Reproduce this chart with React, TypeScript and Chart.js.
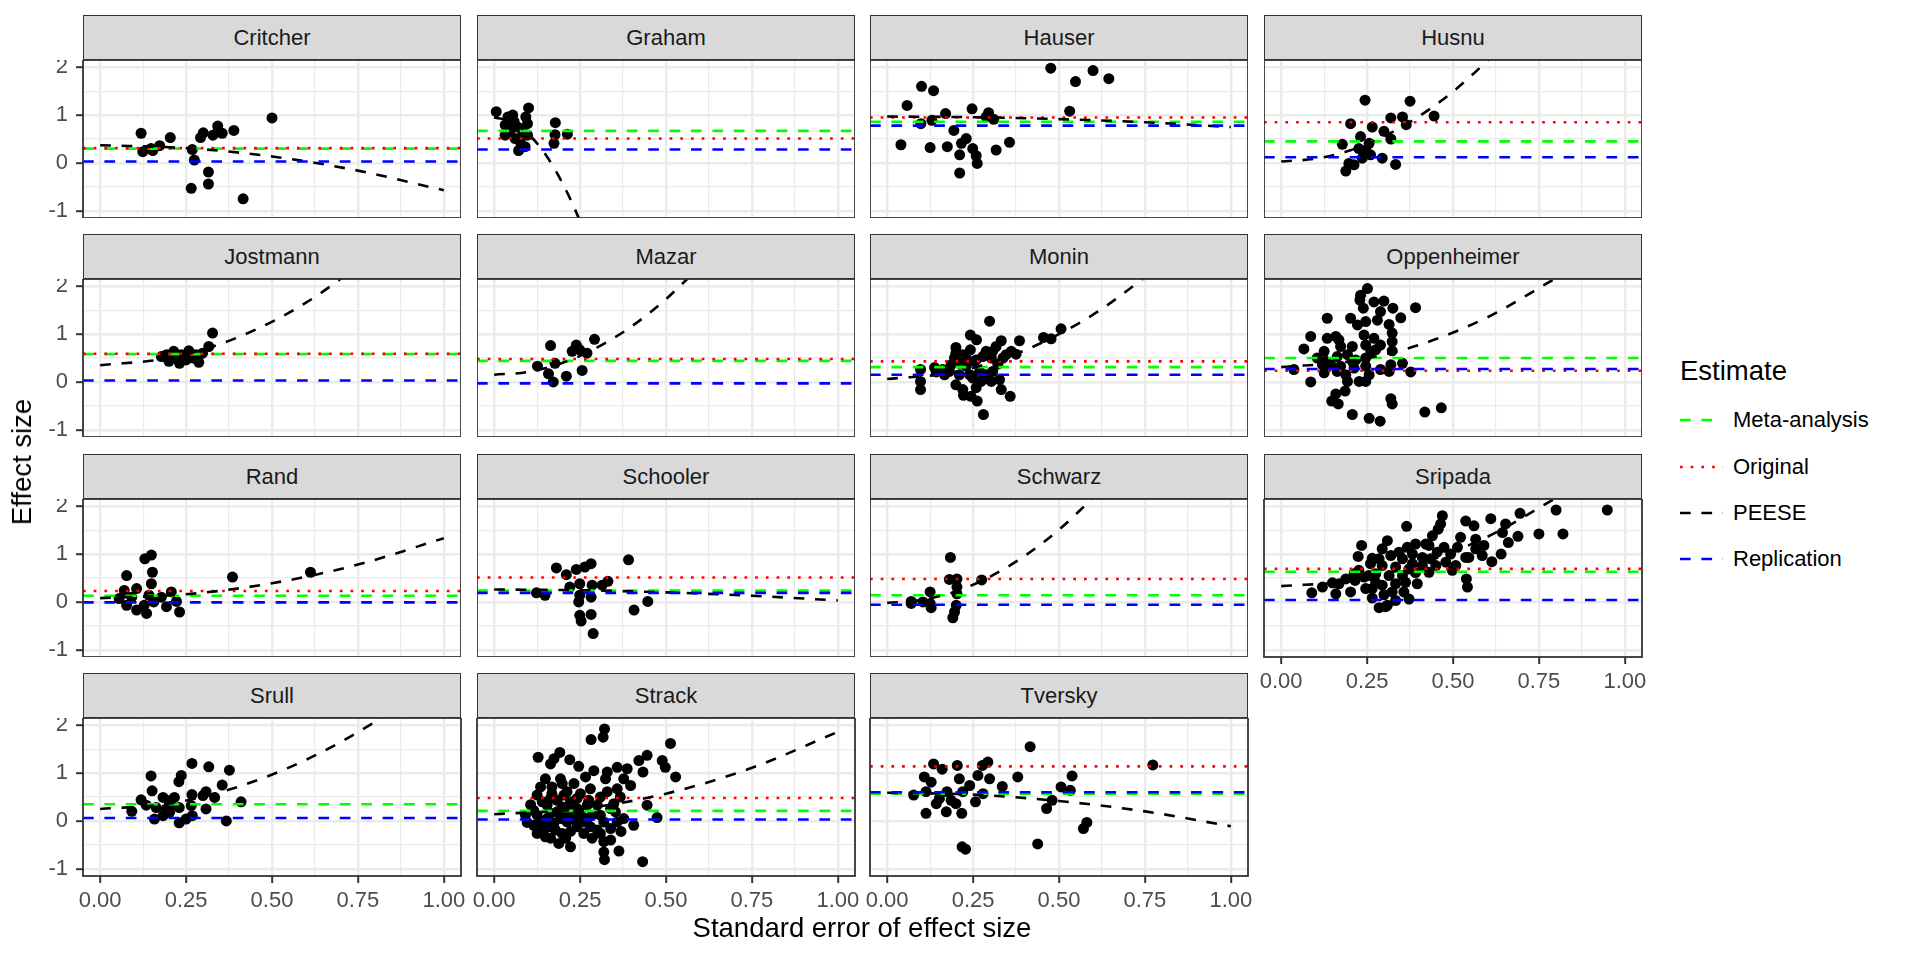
import React, { useEffect, useRef } from "react";
import { Chart, registerables } from "chart.js";

Chart.register(...registerables);

// ---------- axis settings ----------
const X_MIN = -0.05;
const X_MAX = 1.05;
const Y_MIN = -1.15;
const Y_MAX = 2.15;
const xGridValues = [0, 0.125, 0.25, 0.375, 0.5, 0.625, 0.75, 0.875, 1];
const xMajorValues = [0, 0.25, 0.5, 0.75, 1];
const xTickLabels = ["0.00", "0.25", "0.50", "0.75", "1.00"];
const yGridValues = [-1, -0.5, 0, 0.5, 1, 1.5, 2];
const yMajorValues = [-1, 0, 1, 2];
const yTickLabels = ["-1", "0", "1", "2"];

// ---------- facets ----------
const studies = [
  "Critcher", "Graham", "Hauser", "Husnu",
  "Jostmann", "Mazar", "Monin", "Oppenheimer",
  "Rand", "Schooler", "Schwarz", "Sripada",
  "Srull", "Strack", "Tversky",
];
const metaValues = [0.30, 0.67, 0.86, 0.45, 0.58, 0.44, 0.31, 0.50, 0.13, 0.24, 0.14, 0.63, 0.35, 0.21, 0.57];
const originalValues: (number | null)[] = [0.31, 0.51, 0.95, 0.85, 0.59, 0.48, 0.43, 0.235, 0.23, 0.51, 0.48, 0.69, null, 0.48, 1.14];
const replicationValues = [0.03, 0.28, 0.78, 0.12, 0.03, -0.03, 0.15, 0.27, -0.01, 0.19, -0.06, 0.04, 0.06, 0.03, 0.60];

// ---------- points: [standard error, effect size] ----------
const critcherPoints: [number, number][] = [
  [0.119, 0.62], [0.124, 0.235], [0.148, 0.30], [0.153, 0.26], [0.173, 0.36], [0.204, 0.53],
  [0.268, 0.28], [0.274, 0.06], [0.265, -0.53], [0.292, 0.53], [0.30, 0.63], [0.315, -0.19],
  [0.315, -0.44], [0.328, 0.58], [0.342, 0.77], [0.355, 0.62], [0.389, 0.68], [0.416, -0.75],
  [0.50, 0.94], [0.342, 0.65],
];
const grahamPoints: [number, number][] = [
  [0.006, 1.07], [0.04, 0.96], [0.054, 1.0], [0.10, 1.15], [0.092, 0.96], [0.097, 0.82],
  [0.032, 0.79], [0.046, 0.68], [0.068, 0.75], [0.032, 0.58], [0.061, 0.51], [0.076, 0.43],
  [0.090, 0.34], [0.071, 0.26], [0.097, 0.58], [0.178, 0.84], [0.177, 0.59], [0.213, 0.60],
  [0.174, 0.41], [0.083, 0.65], [0.058, 0.86],
];
const hauserPoints: [number, number][] = [
  [0.10, 1.60], [0.135, 1.51], [0.058, 1.20], [0.04, 0.38], [0.17, 1.03], [0.13, 0.89],
  [0.098, 0.82], [0.125, 0.32], [0.175, 0.34], [0.194, 0.68], [0.23, 0.51], [0.216, 0.41],
  [0.247, 1.13], [0.295, 1.05], [0.288, 0.96], [0.31, 0.91], [0.249, 0.30], [0.211, 0.17],
  [0.259, 0.15], [0.262, -0.01], [0.211, -0.21], [0.317, 0.27], [0.356, 0.43], [0.476, 1.98],
  [0.548, 1.70], [0.599, 1.93], [0.645, 1.76], [0.531, 1.08],
];
const husnuPoints: [number, number][] = [
  [0.244, 1.31], [0.202, 0.82], [0.375, 1.29], [0.445, 0.98], [0.319, 0.94], [0.353, 0.96],
  [0.364, 0.80], [0.265, 0.75], [0.299, 0.66], [0.319, 0.50], [0.231, 0.55], [0.178, 0.39],
  [0.256, 0.41], [0.246, 0.27], [0.26, 0.17], [0.236, 0.10], [0.294, 0.10], [0.197, -0.01],
  [0.212, -0.04], [0.188, -0.17], [0.333, -0.03], [0.226, 0.30],
];
const jostmannPoints: [number, number][] = [
  [0.327, 1.02], [0.316, 0.74], [0.214, 0.64], [0.178, 0.53], [0.20, 0.43], [0.231, 0.39],
  [0.258, 0.65], [0.279, 0.57], [0.287, 0.41], [0.298, 0.60], [0.236, 0.57], [0.272, 0.50],
  [0.222, 0.50], [0.193, 0.57], [0.25, 0.46],
];
const mazarPoints: [number, number][] = [
  [0.164, 0.76], [0.292, 0.89], [0.239, 0.77], [0.227, 0.64], [0.27, 0.60], [0.249, 0.67],
  [0.126, 0.33], [0.177, 0.39], [0.158, 0.17], [0.21, 0.12], [0.256, 0.24], [0.172, 0.00],
];
const moninPoints: [number, number][] = [
  [0.298, 1.27], [0.242, 0.98], [0.26, 0.88], [0.332, 0.86], [0.385, 0.86], [0.455, 0.93],
  [0.477, 0.90], [0.506, 1.11], [0.20, 0.72], [0.361, 0.64], [0.375, 0.58], [0.317, 0.74],
  [0.288, 0.64], [0.242, 0.67], [0.22, 0.57], [0.196, 0.50], [0.138, 0.30], [0.097, 0.26],
  [0.097, 0.01], [0.097, -0.16], [0.162, 0.26], [0.186, 0.36], [0.21, 0.39], [0.23, 0.33],
  [0.254, 0.43], [0.278, 0.53], [0.303, 0.50], [0.322, 0.37], [0.337, 0.50], [0.269, 0.22],
  [0.24, 0.15], [0.20, -0.06], [0.22, -0.16], [0.259, -0.12], [0.303, 0.01], [0.327, 0.05],
  [0.332, -0.16], [0.358, -0.30], [0.244, -0.30], [0.222, -0.28], [0.262, -0.40], [0.28, -0.68],
  [0.21, 0.15], [0.181, 0.22], [0.288, 0.15], [0.143, 0.21], [0.167, 0.15], [0.307, 0.22],
  [0.249, 0.08], [0.273, 0.01], [0.20, 0.60], [0.259, 0.46], [0.307, 0.64], [0.346, 0.57],
  [0.23, 0.50],
];
const oppenheimerPoints: [number, number][] = [
  [0.251, 1.95], [0.231, 1.81], [0.229, 1.71], [0.27, 1.67], [0.299, 1.69], [0.239, 1.54],
  [0.325, 1.54], [0.391, 1.55], [0.134, 1.33], [0.202, 1.33], [0.222, 1.19], [0.246, 1.26],
  [0.28, 1.29], [0.289, 1.47], [0.348, 1.34], [0.314, 1.20], [0.323, 1.02], [0.086, 0.95],
  [0.134, 0.91], [0.159, 0.95], [0.168, 0.88], [0.241, 0.98], [0.27, 0.91], [0.323, 0.84],
  [0.066, 0.69], [0.125, 0.64], [0.173, 0.74], [0.207, 0.74], [0.246, 0.77], [0.289, 0.77],
  [0.261, 0.64], [0.323, 0.65], [0.105, 0.50], [0.13, 0.43], [0.163, 0.53], [0.193, 0.57],
  [0.217, 0.46], [0.246, 0.50], [0.037, 0.26], [0.12, 0.36], [0.125, 0.19], [0.163, 0.22],
  [0.188, 0.15], [0.212, 0.29], [0.246, 0.33], [0.289, 0.26], [0.319, 0.36], [0.314, 0.22],
  [0.353, 0.39], [0.377, 0.21], [0.086, 0.00], [0.193, 0.01], [0.246, 0.01], [0.256, 0.15],
  [0.186, -0.19], [0.159, -0.25], [0.147, -0.40], [0.166, -0.46], [0.319, -0.35], [0.323, -0.46],
  [0.207, -0.68], [0.256, -0.76], [0.288, -0.82], [0.418, -0.63], [0.466, -0.54], [0.207, 0.43],
  [0.173, 0.33], [0.144, 0.36], [0.275, 0.67], [0.227, 0.01],
];
const randPoints: [number, number][] = [
  [0.149, 0.98], [0.13, 0.90], [0.077, 0.55], [0.152, 0.62], [0.149, 0.38], [0.07, 0.24],
  [0.106, 0.28], [0.207, 0.21], [0.055, 0.07], [0.077, -0.07], [0.106, -0.17], [0.135, -0.24],
  [0.128, -0.07], [0.156, 0.00], [0.193, -0.10], [0.231, -0.21], [0.178, 0.10], [0.385, 0.52],
  [0.612, 0.62], [0.092, 0.10], [0.142, 0.14], [0.222, 0.01],
];
const schoolerPoints: [number, number][] = [
  [0.123, 0.19], [0.148, 0.14], [0.181, 0.71], [0.21, 0.57], [0.239, 0.68], [0.264, 0.73],
  [0.282, 0.80], [0.249, 0.38], [0.285, 0.35], [0.314, 0.35], [0.331, 0.43], [0.249, 0.14],
  [0.282, 0.10], [0.246, 0.0], [0.249, -0.28], [0.253, -0.40], [0.282, -0.26], [0.288, -0.66],
  [0.391, 0.88], [0.407, -0.17], [0.447, 0.01], [0.22, 0.31],
];
const schwarzPoints: [number, number][] = [
  [0.184, 0.93], [0.181, 0.47], [0.203, 0.48], [0.275, 0.46], [0.203, 0.31], [0.203, 0.17],
  [0.125, 0.21], [0.07, 0.01], [0.07, -0.03], [0.125, -0.03], [0.128, -0.12], [0.201, -0.07],
  [0.196, -0.21], [0.191, -0.33], [0.104, 0.0],
];
const sripadaPoints: [number, number][] = [
  [0.949, 1.92], [0.80, 1.92], [0.695, 1.85], [0.82, 1.42], [0.75, 1.42], [0.689, 1.37],
  [0.61, 1.74], [0.653, 1.63], [0.644, 1.45], [0.661, 1.24], [0.64, 1.00], [0.613, 0.84],
  [0.59, 1.18], [0.566, 1.11], [0.561, 1.59], [0.537, 1.69], [0.522, 1.35], [0.513, 1.14],
  [0.537, 0.93], [0.539, 0.48], [0.542, 0.31], [0.469, 1.80], [0.464, 1.63], [0.457, 1.52],
  [0.44, 1.38], [0.474, 1.14], [0.454, 1.04], [0.421, 1.21], [0.391, 1.21], [0.367, 1.14],
  [0.365, 1.58], [0.309, 1.28], [0.294, 1.11], [0.234, 1.18], [0.224, 0.95], [0.265, 0.91],
  [0.319, 0.97], [0.353, 0.90], [0.382, 1.00], [0.411, 0.93], [0.435, 0.90], [0.493, 1.00],
  [0.479, 0.83], [0.411, 0.76], [0.372, 0.69], [0.333, 0.73], [0.294, 0.76], [0.26, 0.80],
  [0.226, 0.66], [0.241, 0.52], [0.275, 0.59], [0.314, 0.55], [0.353, 0.55], [0.391, 0.61],
  [0.43, 0.62], [0.498, 0.66], [0.396, 0.38], [0.357, 0.21], [0.372, 0.06], [0.333, 0.03],
  [0.299, 0.15], [0.309, -0.07], [0.285, -0.12], [0.304, -0.10], [0.265, 0.08], [0.265, 0.28],
  [0.215, 0.45], [0.212, 0.59], [0.202, 0.21], [0.159, 0.17], [0.168, 0.38], [0.149, 0.40],
  [0.12, 0.31], [0.089, 0.19], [0.333, 0.38], [0.294, 0.35], [0.246, 0.28], [0.323, 0.21],
  [0.362, 0.41], [0.45, 0.76], [0.508, 0.76], [0.566, 1.31], [0.546, 0.93], [0.585, 0.97],
  [0.43, 1.18], [0.382, 0.80], [0.343, 1.04], [0.285, 0.90], [0.255, 0.55], [0.188, 0.48],
  [0.275, 0.41],
];
const srullPoints: [number, number][] = [
  [0.148, 0.94], [0.151, 0.63], [0.119, 0.44], [0.134, 0.33], [0.092, 0.20], [0.183, 0.49],
  [0.236, 0.95], [0.229, 0.82], [0.267, 1.20], [0.316, 1.13], [0.376, 1.06], [0.355, 0.75],
  [0.333, 0.49], [0.308, 0.61], [0.267, 0.55], [0.299, 0.53], [0.216, 0.49], [0.20, 0.42],
  [0.163, 0.28], [0.158, 0.04], [0.183, 0.11], [0.202, 0.18], [0.23, 0.28], [0.265, 0.32],
  [0.308, 0.25], [0.268, 0.11], [0.25, 0.04], [0.23, -0.04], [0.367, 0.00], [0.41, 0.40],
  [0.207, 0.32], [0.192, 0.25],
];
const strackPoints: [number, number][] = [
  [0.321, 1.92], [0.317, 1.75], [0.282, 1.70], [0.513, 1.62], [0.128, 1.33], [0.191, 1.43],
  [0.174, 1.30], [0.164, 1.19], [0.22, 1.28], [0.246, 1.14], [0.421, 1.26], [0.445, 1.37],
  [0.489, 1.26], [0.498, 1.12], [0.528, 0.92], [0.433, 1.02], [0.387, 1.09], [0.358, 1.12],
  [0.329, 1.02], [0.29, 1.05], [0.266, 0.92], [0.149, 0.88], [0.135, 0.71], [0.198, 0.78],
  [0.232, 0.78], [0.324, 0.88], [0.377, 0.88], [0.397, 0.74], [0.358, 0.67], [0.28, 0.67],
  [0.251, 0.57], [0.212, 0.61], [0.168, 0.57], [0.125, 0.54], [0.183, 0.43], [0.222, 0.40],
  [0.275, 0.43], [0.329, 0.61], [0.367, 0.50], [0.106, 0.34], [0.154, 0.33], [0.198, 0.29],
  [0.241, 0.26], [0.30, 0.33], [0.445, 0.33], [0.339, 0.26], [0.091, 0.12], [0.125, 0.12],
  [0.164, 0.16], [0.212, 0.12], [0.251, 0.16], [0.285, 0.12], [0.096, -0.03], [0.135, -0.02],
  [0.174, -0.05], [0.212, -0.02], [0.261, -0.02], [0.319, -0.02], [0.358, -0.02], [0.406, -0.09],
  [0.474, 0.07], [0.14, -0.19], [0.178, -0.19], [0.222, -0.22], [0.261, -0.26], [0.30, -0.19],
  [0.339, -0.16], [0.369, -0.22], [0.149, -0.33], [0.188, -0.47], [0.222, -0.54], [0.319, -0.43],
  [0.339, -0.40], [0.319, -0.65], [0.321, -0.81], [0.363, -0.63], [0.432, -0.85], [0.115, -0.09],
  [0.154, 0.05], [0.193, 0.05], [0.232, 0.05], [0.271, 0.05], [0.309, 0.12], [0.183, 0.19],
  [0.222, 0.26], [0.271, 0.33], [0.115, 0.22], [0.164, 0.47], [0.203, 0.54], [0.241, 0.47],
  [0.309, 0.50], [0.348, 0.36], [0.14, 0.40], [0.168, 0.71], [0.193, 0.88], [0.159, -0.12],
  [0.198, -0.26], [0.241, -0.12], [0.28, -0.12], [0.377, 0.05], [0.353, 0.19], [0.125, -0.26],
  [0.164, -0.36], [0.208, -0.36], [0.285, -0.36], [0.309, -0.26],
];
const tverskyPoints: [number, number][] = [
  [0.416, 1.55], [0.135, 1.19], [0.16, 1.08], [0.204, 1.16], [0.277, 1.16], [0.293, 1.23],
  [0.773, 1.17], [0.538, 0.94], [0.38, 0.92], [0.298, 0.88], [0.264, 0.95], [0.21, 0.88],
  [0.108, 0.92], [0.128, 0.81], [0.335, 0.72], [0.24, 0.74], [0.22, 0.61], [0.174, 0.61],
  [0.113, 0.61], [0.077, 0.54], [0.506, 0.71], [0.533, 0.64], [0.279, 0.57], [0.257, 0.40],
  [0.143, 0.36], [0.172, 0.19], [0.113, 0.16], [0.217, 0.16], [0.186, 0.43], [0.48, 0.43],
  [0.464, 0.26], [0.581, -0.03], [0.571, -0.16], [0.438, -0.48], [0.218, -0.54], [0.228, -0.59],
  [0.152, 0.47], [0.20, 0.36],
];

// ---------- PEESE fitted line: [standard error, effect size] ----------
const critcherPeese: [number, number][] = [[0, 0.37], [0.25, 0.31], [0.5, 0.135], [0.75, -0.16], [1, -0.57]];
const grahamPeese: [number, number][] = [[0, 0.95], [0.05, 0.86], [0.1, 0.6], [0.15, 0.17], [0.2, -0.44], [0.25, -1.22], [0.3, -2.17]];
const hauserPeese: [number, number][] = [[0, 0.97], [0.25, 0.955], [0.5, 0.915], [0.75, 0.85], [1, 0.75]];
const husnuPeese: [number, number][] = [[0, 0.03], [0.1, 0.09], [0.2, 0.26], [0.3, 0.56], [0.4, 0.97], [0.5, 1.49], [0.6, 2.14], [0.7, 2.9]];
const jostmannPeese: [number, number][] = [[0, 0.35], [0.2, 0.5], [0.4, 0.93], [0.6, 1.66], [0.8, 2.69]];
const mazarPeese: [number, number][] = [[0, 0.15], [0.1, 0.21], [0.2, 0.4], [0.3, 0.72], [0.4, 1.16], [0.5, 1.73], [0.6, 2.42]];
const moninPeese: [number, number][] = [[0, 0.06], [0.2, 0.21], [0.4, 0.66], [0.6, 1.41], [0.8, 2.46]];
const oppenheimerPeese: [number, number][] = [[0, 0.31], [0.2, 0.43], [0.4, 0.77], [0.6, 1.35], [0.8, 2.17]];
const randPeese: [number, number][] = [[0, 0.08], [0.25, 0.16], [0.5, 0.39], [0.75, 0.78], [1, 1.33]];
const schoolerPeese: [number, number][] = [[0, 0.26], [0.25, 0.245], [0.5, 0.2], [0.75, 0.13], [1, 0.03]];
const schwarzPeese: [number, number][] = [[0, -0.02], [0.1, 0.04], [0.2, 0.22], [0.3, 0.53], [0.4, 0.96], [0.5, 1.51], [0.6, 2.18]];
const sripadaPeese: [number, number][] = [[0, 0.33], [0.2, 0.44], [0.4, 0.79], [0.6, 1.36], [0.8, 2.17]];
const srullPeese: [number, number][] = [[0, 0.25], [0.2, 0.36], [0.4, 0.71], [0.6, 1.28], [0.8, 2.07], [0.9, 2.56]];
const strackPeese: [number, number][] = [[0, 0.14], [0.25, 0.25], [0.5, 0.57], [0.75, 1.11], [1, 1.86]];
const tverskyPeese: [number, number][] = [[0, 0.59], [0.25, 0.55], [0.5, 0.415], [0.75, 0.2], [1, -0.11]];

const pointSets = [
  critcherPoints, grahamPoints, hauserPoints, husnuPoints,
  jostmannPoints, mazarPoints, moninPoints, oppenheimerPoints,
  randPoints, schoolerPoints, schwarzPoints, sripadaPoints,
  srullPoints, strackPoints, tverskyPoints,
];
const peeseSets = [
  critcherPeese, grahamPeese, hauserPeese, husnuPeese,
  jostmannPeese, mazarPeese, moninPeese, oppenheimerPeese,
  randPeese, schoolerPeese, schwarzPeese, sripadaPeese,
  srullPeese, strackPeese, tverskyPeese,
];

const legendLabels = ["Meta-analysis", "Original", "PEESE", "Replication"];

// ---------- style / layout ----------
const FONT = '"Liberation Sans", Arial, Helvetica, sans-serif';
const COL_LEFT = [83, 477, 870, 1264];
const ROW_TOP = [60, 279, 499, 718];
const PANEL_W = 378;
const PANEL_H = 158;
const STRIP_H = 45;
const LINE_W = 2.6;
const DASH = [10.7, 10.7];
const DOT = [2.7, 8];
const GREEN = "#00FF00";
const RED = "#FF0000";
const BLUE = "#0000FF";
const GRID = "#EBEBEB";
const DARK = "#333333";

const isMajor = (v: number, majors: number[]) => majors.some((m) => Math.abs(m - v) < 1e-9);

const borderPlugin = {
  id: "panelBorder",
  afterDraw(chart: any) {
    const { ctx, chartArea } = chart;
    ctx.save();
    ctx.strokeStyle = DARK;
    ctx.lineWidth = 1.8;
    ctx.setLineDash([]);
    ctx.strokeRect(chartArea.left, chartArea.top, chartArea.right - chartArea.left, chartArea.bottom - chartArea.top);
    ctx.restore();
  },
};

function hline(v: number, color: string, dash: number[], order: number) {
  return {
    data: [{ x: X_MIN, y: v }, { x: X_MAX, y: v }],
    showLine: true,
    pointRadius: 0,
    borderColor: color,
    borderWidth: LINE_W,
    borderDash: dash,
    borderCapStyle: "butt",
    order,
    clip: 0,
  };
}

function Panel({ idx }: { idx: number }) {
  const ref = useRef<HTMLCanvasElement>(null);
  const col = idx % 4;
  const row = Math.floor(idx / 4);
  const isBottom = row === 3 || (row === 2 && col === 3);
  const isLeft = col === 0;
  const axisW = isLeft ? COL_LEFT[0] : 0;
  const extraL = !isLeft && isBottom ? 22 : 0;
  const padB = isBottom ? 50 : 0;
  const padR = isBottom ? 22 : 0;
  const left = COL_LEFT[col] - axisW - extraL;
  const top = ROW_TOP[row];
  const w = PANEL_W + axisW + extraL + padR;
  const h = PANEL_H + padB;

  useEffect(() => {
    const datasets: any[] = [];
    datasets.push({
      data: pointSets[idx].map(([x, y]) => ({ x, y })),
      pointRadius: 5.5,
      pointBackgroundColor: "#000000",
      pointBorderWidth: 0,
      showLine: false,
      order: 10,
    });
    datasets.push(hline(metaValues[idx], GREEN, DASH, 4));
    const orig = originalValues[idx];
    if (orig !== null) datasets.push(hline(orig, RED, DOT, 3));
    datasets.push({
      data: peeseSets[idx].map(([x, y]) => ({ x, y })),
      showLine: true,
      pointRadius: 0,
      borderColor: "#000000",
      borderWidth: LINE_W,
      borderDash: DASH,
      cubicInterpolationMode: "monotone",
      order: 2,
      clip: 0,
    });
    datasets.push(hline(replicationValues[idx], BLUE, DASH, 1));

    const chart = new Chart(ref.current as HTMLCanvasElement, {
      type: "scatter",
      data: { datasets },
      plugins: [borderPlugin],
      options: {
        animation: false,
        responsive: false,
        devicePixelRatio: 1,
        events: [],
        layout: { padding: { left: extraL, right: padR, top: 0, bottom: 0 }, autoPadding: false },
        plugins: { legend: { display: false }, tooltip: { enabled: false }, title: { display: false } },
        scales: {
          x: {
            type: "linear",
            min: X_MIN,
            max: X_MAX,
            afterBuildTicks: (s: any) => {
              s.ticks = xGridValues.map((v) => ({ value: v }));
            },
            afterFit: (s: any) => {
              s.height = padB;
              s.paddingLeft = 0;
              s.paddingRight = 0;
              s.paddingTop = 0;
              s.paddingBottom = 0;
            },
            ticks: {
              display: isBottom,
              autoSkip: false,
              maxRotation: 0,
              minRotation: 0,
              padding: 5,
              color: "#4D4D4D",
              font: { family: FONT, size: 22 },
              callback: (v: any) => {
                const i = xMajorValues.findIndex((m) => Math.abs(m - v) < 1e-9);
                return i >= 0 ? xTickLabels[i] : "";
              },
            },
            grid: {
              color: GRID,
              lineWidth: (c: any) => (isMajor(c.tick.value, xMajorValues) ? 2.4 : 1.2),
              drawTicks: isBottom,
              tickLength: 7,
              tickWidth: 2,
              tickColor: (c: any) => (isMajor(c.tick.value, xMajorValues) ? DARK : "rgba(0,0,0,0)"),
            },
            border: { display: false },
          },
          y: {
            type: "linear",
            min: Y_MIN,
            max: Y_MAX,
            afterBuildTicks: (s: any) => {
              s.ticks = yGridValues.map((v) => ({ value: v }));
            },
            afterFit: (s: any) => {
              s.width = axisW;
              s.paddingLeft = 0;
              s.paddingRight = 0;
              s.paddingTop = 0;
              s.paddingBottom = 0;
            },
            ticks: {
              display: isLeft,
              autoSkip: false,
              padding: 8,
              color: "#4D4D4D",
              font: { family: FONT, size: 22 },
              callback: (v: any) => {
                const i = yMajorValues.findIndex((m) => Math.abs(m - v) < 1e-9);
                return i >= 0 ? yTickLabels[i] : "";
              },
            },
            grid: {
              color: GRID,
              lineWidth: (c: any) => (isMajor(c.tick.value, yMajorValues) ? 2.4 : 1.2),
              drawTicks: isLeft,
              tickLength: 7,
              tickWidth: 2,
              tickColor: (c: any) => (isMajor(c.tick.value, yMajorValues) ? DARK : "rgba(0,0,0,0)"),
            },
            border: { display: false },
          },
        },
      } as any,
    });
    return () => chart.destroy();
  }, []);

  return (
    <>
      <div
        style={{
          position: "absolute",
          left: COL_LEFT[col],
          top: top - STRIP_H,
          width: PANEL_W,
          height: STRIP_H,
          boxSizing: "border-box",
          background: "#D9D9D9",
          border: `1.8px solid ${DARK}`,
          display: "flex",
          alignItems: "center",
          justifyContent: "center",
          fontFamily: FONT,
          fontSize: 22,
          color: "#1A1A1A",
        }}
      >
        {studies[idx]}
      </div>
      <canvas
        ref={ref}
        width={w}
        height={h}
        style={{ position: "absolute", left, top, width: w, height: h }}
      />
    </>
  );
}

function LegendKey({ color, dash }: { color: string; dash: number[] }) {
  return (
    <svg width={43} height={20} style={{ display: "block" }}>
      <line x1={0} y1={10} x2={43} y2={10} stroke={color} strokeWidth={LINE_W} strokeDasharray={dash.join(" ")} />
    </svg>
  );
}

export default function App() {
  const legendColors = [GREEN, RED, "#000000", BLUE];
  const legendDashes = [DASH, DOT, DASH, DASH];
  const legendY = [420, 466.5, 513, 558.5];
  return (
    <div
      style={{
        position: "fixed",
        left: 0,
        top: 0,
        width: 1920,
        height: 960,
        background: "#FFFFFF",
        overflow: "hidden",
        fontFamily: FONT,
      }}
    >
      {studies.map((_, i) => (
        <Panel key={i} idx={i} />
      ))}
      <div
        style={{
          position: "absolute",
          left: 22,
          top: 462,
          transform: "translate(-50%, -50%) rotate(-90deg)",
          whiteSpace: "nowrap",
          fontSize: 27.5,
          color: "#000000",
        }}
      >
        Effect size
      </div>
      <div
        style={{
          position: "absolute",
          left: 862,
          top: 928,
          transform: "translate(-50%, -50%)",
          whiteSpace: "nowrap",
          fontSize: 27.5,
          color: "#000000",
        }}
      >
        Standard error of effect size
      </div>
      <div
        style={{
          position: "absolute",
          left: 1680,
          top: 371,
          transform: "translateY(-50%)",
          whiteSpace: "nowrap",
          fontSize: 27.5,
          color: "#000000",
        }}
      >
        Estimate
      </div>
      {legendLabels.map((lab, i) => (
        <div
          key={lab}
          style={{
            position: "absolute",
            left: 1680,
            top: legendY[i],
            transform: "translateY(-50%)",
            display: "flex",
            alignItems: "center",
            whiteSpace: "nowrap",
          }}
        >
          <LegendKey color={legendColors[i]} dash={legendDashes[i]} />
          <span style={{ marginLeft: 10, fontSize: 22, color: "#000000" }}>{lab}</span>
        </div>
      ))}
    </div>
  );
}
